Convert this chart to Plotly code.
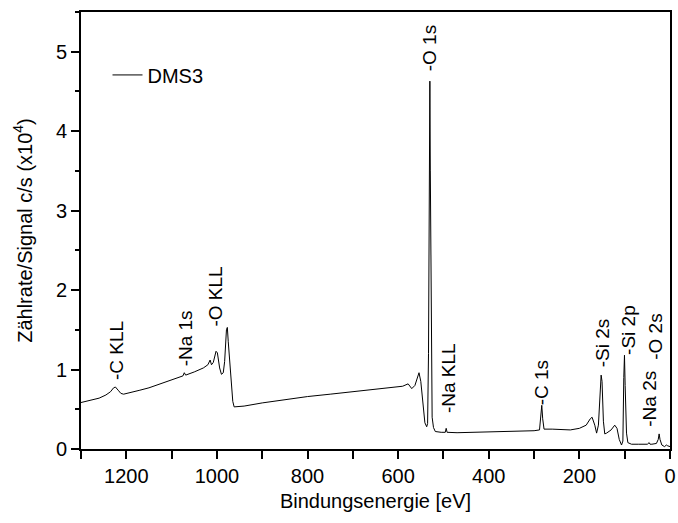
import plotly.graph_objects as go

# Binding energy (eV) and signal (x10^4 c/s)
energy = [1300, 1280, 1260, 1245, 1235, 1228, 1224, 1218, 1212, 1206, 1190, 1170, 1150,
          1130, 1110, 1090, 1075, 1072, 1069, 1050, 1030, 1020, 1015, 1012, 1008, 1002,
          999, 994, 990, 986, 983, 979, 977, 975, 970, 965, 962, 940, 900, 850, 800, 750,
          700, 650, 610, 590, 578, 570, 563, 558, 554, 550, 545, 541, 537, 535, 533, 531,
          530, 529, 527, 525, 522, 518, 505, 496, 494, 492, 470, 420, 360, 300, 288, 285,
          283, 281, 278, 260, 220, 200, 185, 176, 172, 166, 162, 158, 154, 152, 150, 147,
          144, 140, 130, 122, 117, 112, 107, 104, 102, 100.5, 99, 96, 93, 85, 70, 50, 46,
          44, 40, 30, 26, 24, 22, 18, 12, 8, 5, 2, 0]
signal = [0.585, 0.61, 0.64, 0.68, 0.72, 0.77, 0.78, 0.74, 0.70, 0.69, 0.71, 0.74, 0.77,
          0.81, 0.85, 0.89, 0.92, 0.96, 0.93, 0.97, 1.02, 1.06, 1.12, 1.06, 1.09, 1.23,
          1.21, 1.02, 0.94, 0.96, 1.10, 1.50, 1.53, 1.35, 0.95, 0.60, 0.53, 0.54, 0.58, 0.62,
          0.66, 0.69, 0.72, 0.75, 0.78, 0.79, 0.82, 0.76, 0.80, 0.90, 0.96, 0.85, 0.55, 0.33,
          0.28, 0.32, 1.20, 4.00, 4.63, 3.50, 1.00, 0.40, 0.27, 0.22, 0.21, 0.21, 0.26, 0.21,
          0.205, 0.21, 0.22, 0.23, 0.24, 0.40, 0.55, 0.38, 0.25, 0.25, 0.24, 0.26, 0.30,
          0.38, 0.40, 0.30, 0.20, 0.30, 0.80, 0.93, 0.85, 0.35, 0.19, 0.20, 0.24, 0.30,
          0.26, 0.12, 0.05, 0.10, 0.90, 1.18, 0.80, 0.20, 0.08, 0.06, 0.06, 0.06, 0.08,
          0.06, 0.06, 0.07, 0.12, 0.19, 0.12, 0.05, 0.03, 0.05, 0.04, 0.03, 0.03]

# Peak labels: text, energy position, label base height
peak_labels = ["-C KLL", "-Na 1s", "-O KLL", "-O 1s", "-Na KLL", "-C 1s",
               "-Si 2s", "-Si 2p", "-Na 2s", "-O 2s"]
peak_x = [1223, 1070, 1004, 530, 490, 283, 150, 93, 46, 31]
peak_y = [0.86, 1.03, 1.53, 4.74, 0.44, 0.54, 1.01, 1.17, 0.27, 1.11]

font_family = "Liberation Sans, Arial, sans-serif"
FS = 20

fig = go.Figure()
fig.add_trace(go.Scatter(x=energy, y=signal, mode="lines", name="DMS3",
                         line=dict(color="black", width=1)))

for t, x, y in zip(peak_labels, peak_x, peak_y):
    fig.add_annotation(x=x, y=y, text=t, textangle=-90, showarrow=False,
                       xanchor="center", yanchor="bottom", borderpad=0,
                       font=dict(family=font_family, size=19, color="black"))

fig.update_layout(
    width=678, height=523,
    margin=dict(l=81, r=2, t=12, b=74),
    paper_bgcolor="white", plot_bgcolor="white",
    font=dict(family=font_family, size=FS, color="black"),
    showlegend=True,
    legend=dict(x=0.045, y=0.856, xanchor="left", yanchor="middle",
                bgcolor="rgba(0,0,0,0)", font=dict(size=FS)),
    xaxis=dict(range=[1300, 0], dtick=200, tick0=0, showgrid=False, zeroline=False,
               showline=True, linecolor="black", linewidth=2, mirror=True,
               ticks="outside", ticklen=8, tickwidth=1.5, tickcolor="black",
               ticklabeloverflow="allow",
               minor=dict(dtick=100, ticks="outside", ticklen=8, tickwidth=1.5,
                          tickcolor="black", showgrid=False),
               title=dict(text="Bindungsenergie [eV]", standoff=8,
                          font=dict(size=FS))),
    yaxis=dict(range=[0, 5.5], dtick=1, tick0=0, showgrid=False, zeroline=False,
               showline=True, linecolor="black", linewidth=2, mirror=True,
               ticks="outside", ticklen=8, tickwidth=1.5, tickcolor="black",
               minor=dict(dtick=0.5, ticks="outside", ticklen=4, tickwidth=1.5,
                          tickcolor="black", showgrid=False),
               title=dict(text="Zählrate/Signal c/s (x10<sup>4</sup>)", standoff=18,
                          font=dict(size=FS))),
)

fig.write_html("out.html", config={"displayModeBar": False},
               post_script="document.body.style.margin='0px';document.body.style.padding='0px';")
